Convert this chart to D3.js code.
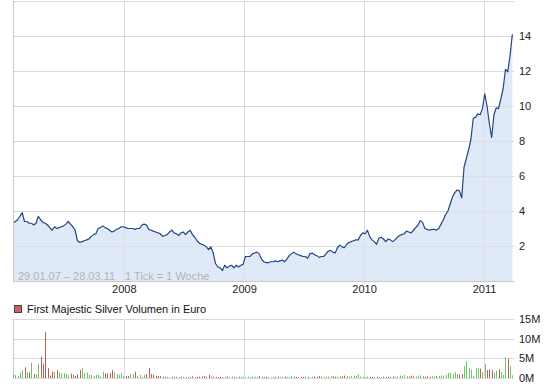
<!DOCTYPE html>
<html>
<head>
<meta charset="utf-8">
<script src="https://cdn.jsdelivr.net/npm/d3@7"></script>
<style>
  body { margin: 0; background: #fff; }
  svg { display: block; font-family: "Liberation Sans", Arial, sans-serif; }
</style>
</head>
<body>
<svg width="557" height="389"></svg>
<script>
// weekly closes in Euro, 29.01.07 .. 28.03.11
const startDate = '2007-01-29'
const prices = [
  3.3, 3.4, 3.5, 3.7, 3.9, 3.4, 3.4, 3.3, 3.3, 3.2,
  3.3, 3.7, 3.5, 3.35, 3.3, 3.2, 3.05, 2.9, 3.1, 3.0,
  3.05, 3.1, 3.15, 3.25, 3.4, 3.25, 3.1, 2.9, 2.3, 2.2,
  2.25, 2.3, 2.35, 2.4, 2.55, 2.65, 2.7, 3.0, 3.05, 3.15,
  3.05, 3.0, 2.9, 2.8, 2.85, 2.95, 3.0, 3.1, 3.1, 3.05,
  3.0, 3.0, 3.0, 2.95, 3.0, 3.0, 3.2, 3.25, 3.2, 2.95,
  2.9, 2.85, 2.8, 2.75, 2.7, 2.55, 2.6, 2.65, 2.8, 2.9,
  2.75, 2.7, 2.6, 2.75, 2.8, 2.65, 2.8, 2.9, 2.65, 2.5,
  2.3, 2.15, 2.1, 2.05, 1.95, 1.8, 1.95, 1.6, 1.0, 0.8,
  0.75, 0.6, 0.9, 0.75, 0.85, 0.9, 0.75, 0.9, 0.8, 0.9,
  0.95, 1.4, 1.4, 1.4, 1.55, 1.6, 1.65, 1.55, 1.25, 1.1,
  1.05, 1.05, 1.1, 1.1, 1.15, 1.1, 1.15, 1.2, 1.1, 1.25,
  1.45, 1.55, 1.65, 1.55, 1.5, 1.45, 1.4, 1.4, 1.3, 1.55,
  1.6, 1.5, 1.45, 1.35, 1.4, 1.4, 1.55, 1.7, 1.75, 1.65,
  1.6, 1.9, 2.05, 1.95, 1.9, 2.1, 2.2, 2.25, 2.3, 2.35,
  2.35, 2.6, 2.75, 2.7, 2.9, 2.55, 2.35, 2.25, 2.1, 2.45,
  2.5, 2.4, 2.25, 2.4, 2.35, 2.25, 2.35, 2.5, 2.6, 2.65,
  2.7, 2.85, 2.8, 2.75, 2.9, 3.05, 3.2, 3.45, 3.35, 3.0,
  2.95, 2.9, 2.95, 2.95, 2.9, 3.0, 3.25, 3.5, 3.8, 4.0,
  4.4, 4.8, 5.05, 5.2, 5.15, 4.75, 6.5, 7.0, 7.5, 8.1,
  9.3, 9.35, 9.55, 9.5, 9.85, 10.7, 10.0, 9.0, 8.2, 9.5,
  9.9, 9.85, 10.4, 11.0, 12.1, 11.95, 12.9, 14.1
]
// weekly volume, million Euro
const volumes = [
  0.9, 0.8, 0.5, 1.4, 2.0, 2.7, 1.4, 1.4, 3.9, 1.0,
  1.0, 3.6, 5.4, 3.6, 11.7, 2.5, 0.6, 1.6, 1.6, 2.0,
  1.4, 1.2, 1.2, 1.1, 0.8, 1.1, 0.8, 0.5, 1.0, 2.0,
  2.5, 1.2, 1.4, 0.8, 0.8, 0.5, 0.8, 0.8, 0.5, 1.6,
  1.2, 1.2, 1.2, 2.0, 1.4, 1.0, 0.8, 1.2, 0.5, 0.5,
  0.5, 1.0, 1.0, 1.6, 0.5, 0.8, 0.3, 0.8, 1.0, 2.5,
  1.0, 0.8, 0.5, 0.5, 0.5, 0.3, 0.4, 0.3, 0.2, 0.4,
  0.3, 0.3, 0.2, 0.4, 0.3, 0.2, 0.3, 0.3, 0.4, 0.2,
  0.3, 0.3, 0.4, 0.5, 0.3, 0.8, 0.4, 0.3, 0.3, 0.2,
  0.3, 0.2, 0.3, 0.4, 0.2, 0.3, 0.2, 0.3, 0.3, 0.4,
  0.3, 0.2, 0.3, 0.2, 0.4, 0.3, 0.3, 0.5, 0.3, 0.2,
  0.3, 0.3, 0.2, 0.3, 0.4, 0.3, 0.2, 0.3, 0.4, 0.3,
  0.3, 0.5, 0.4, 0.3, 0.2, 0.3, 0.3, 0.4, 0.3, 0.2,
  0.3, 0.4, 0.3, 0.5, 0.4, 0.3, 0.3, 0.4, 0.5, 0.4,
  0.3, 0.4, 0.5, 0.4, 0.6, 0.5, 0.4, 0.5, 0.6, 0.5,
  0.9, 0.4, 0.3, 0.2, 0.4, 0.3, 0.3, 0.2, 0.3, 0.3,
  0.2, 0.3, 0.3, 0.4, 0.3, 0.4, 0.3, 0.4, 0.6, 0.5,
  0.8, 0.5, 0.4, 0.6, 0.5, 0.4, 0.5, 0.7, 0.4, 0.3,
  0.4, 0.3, 0.5, 0.4, 0.5, 0.5, 0.6, 0.6, 0.8, 1.3,
  1.3, 1.1, 1.5, 1.0, 0.9, 1.0, 3.0, 4.3, 2.5, 2.1,
  0.6, 2.5, 2.5, 2.4, 1.5, 3.5, 2.0, 2.2, 2.0, 1.3,
  1.8, 2.2, 1.5, 0.8, 5.3, 4.9, 3.0, 0.7
]
const years = [2008, 2009, 2010, 2011]
const priceTicks = [2, 4, 6, 8, 10, 12, 14]
const volumeTicks = [0, 5, 10, 15]
const rangeLabel = '29.01.07 – 28.03.11'
const tickLabel = '1 Tick = 1 Woche'
const legendLabel = 'First Majestic Silver Volumen in Euro'

function draw() {
  const svg = d3.select('svg')
  const start = new Date(startDate + 'T00:00')
  const data = prices.map((p, i) => ({
    date: d3.timeDay.offset(start, 7 * i),
    price: p,
    volume: volumes[i],
    up: i == 0 || p >= prices[i - 1]
  }))

  const left = 13, right = 514
  const x = d3.scaleTime()
    .domain([start, new Date('2011-04-02T00:00')])
    .range([left, right])
  const y = d3.scaleLinear().domain([0, 16]).range([281, 1])
  const yv = d3.scaleLinear().domain([0, 15]).range([378, 319])
  const grid = '#d9d9d9'

  // price panel grid
  const g = svg.append('g')
  g.selectAll('.hgrid')
    .data(priceTicks.concat([16]))
    .enter().append('line')
    .attr('x1', left).attr('x2', right)
    .attr('y1', d => Math.round(y(d)) + 0.5).attr('y2', d => Math.round(y(d)) + 0.5)
    .attr('stroke', grid)
  g.selectAll('.vgrid')
    .data(years)
    .enter().append('line')
    .attr('x1', d => Math.round(x(new Date(d, 0, 1))) + 0.5)
    .attr('x2', d => Math.round(x(new Date(d, 0, 1))) + 0.5)
    .attr('y1', y(16)).attr('y2', y(0))
    .attr('stroke', grid)

  // area + line
  g.append('path')
    .datum(data)
    .attr('fill', '#e0e9f8')
    .attr('d', d3.area()
      .x(d => x(d.date))
      .y0(y(0))
      .y1(d => y(d.price)))
  // grid shows through the light fill
  g.selectAll('.vgrid2')
    .data(years)
    .enter().append('line')
    .attr('x1', d => Math.round(x(new Date(d, 0, 1))) + 0.5)
    .attr('x2', d => Math.round(x(new Date(d, 0, 1))) + 0.5)
    .attr('y1', y(16)).attr('y2', y(0))
    .attr('stroke', grid).attr('stroke-opacity', 0.6)
  g.selectAll('.hgrid2')
    .data(priceTicks)
    .enter().append('line')
    .attr('x1', left).attr('x2', right)
    .attr('y1', d => Math.round(y(d)) + 0.5).attr('y2', d => Math.round(y(d)) + 0.5)
    .attr('stroke', grid).attr('stroke-opacity', 0.6)
  g.append('path')
    .datum(data)
    .attr('fill', 'none')
    .attr('stroke', '#23477f')
    .attr('stroke-width', 1.2)
    .attr('stroke-linejoin', 'round')
    .attr('d', d3.line()
      .x(d => x(d.date))
      .y(d => y(d.price)))

  // frame: left and bottom
  g.append('line').attr('x1', left + 0.5).attr('x2', left + 0.5)
    .attr('y1', y(16)).attr('y2', y(0) + 1).attr('stroke', '#c8c8c8')
  g.append('line').attr('x1', left).attr('x2', right)
    .attr('y1', y(0) + 0.5).attr('y2', y(0) + 0.5).attr('stroke', '#c8c8c8')

  // price axis on the right
  const ya = svg.append('g')
    .attr('transform', `translate(${right},0)`)
    .call(d3.axisRight(y).tickValues(priceTicks).tickSize(0).tickPadding(5))
  ya.select('.domain').remove()
  ya.selectAll('text').attr('font-size', 11).attr('fill', '#222')
    .attr('font-family', '"Liberation Sans", Arial, sans-serif')

  // year labels
  const xa = svg.append('g')
    .attr('transform', `translate(0,${y(0)})`)
    .call(d3.axisBottom(x).tickValues(years.map(d => new Date(d, 0, 1)))
      .tickFormat(d3.timeFormat('%Y')).tickSize(0).tickPadding(4))
  xa.select('.domain').remove()
  xa.selectAll('text').attr('font-size', 11).attr('fill', '#222')
    .attr('font-family', '"Liberation Sans", Arial, sans-serif')

  // period note inside the plot
  svg.append('text').attr('x', 18).attr('y', 280)
    .attr('font-size', 11).attr('fill', '#b3b3b3').text(rangeLabel)
  svg.append('text').attr('x', 125).attr('y', 280)
    .attr('font-size', 11).attr('fill', '#b3b3b3').text(tickLabel)

  // legend
  svg.append('rect').attr('x', 14.5).attr('y', 305.5).attr('width', 7).attr('height', 7)
    .attr('fill', '#d06060').attr('stroke', '#444')
  svg.append('text').attr('x', 27).attr('y', 313)
    .attr('font-size', 11).attr('fill', '#111').text(legendLabel)

  // volume panel
  const v = svg.append('g')
  v.selectAll('.vh')
    .data(volumeTicks)
    .enter().append('line')
    .attr('x1', left).attr('x2', right)
    .attr('y1', d => Math.round(yv(d)) + 0.5).attr('y2', d => Math.round(yv(d)) + 0.5)
    .attr('stroke', grid)
  v.selectAll('.vv')
    .data(years)
    .enter().append('line')
    .attr('x1', d => Math.round(x(new Date(d, 0, 1))) + 0.5)
    .attr('x2', d => Math.round(x(new Date(d, 0, 1))) + 0.5)
    .attr('y1', yv(15)).attr('y2', yv(0))
    .attr('stroke', grid)
  v.append('line').attr('x1', left + 0.5).attr('x2', left + 0.5)
    .attr('y1', yv(15)).attr('y2', yv(0)).attr('stroke', '#c8c8c8')

  v.selectAll('.bar')
    .data(data)
    .enter().append('rect')
    .attr('x', d => Math.round(x(d.date)))
    .attr('width', 1)
    .attr('y', d => yv(d.volume))
    .attr('height', d => yv(0) - yv(d.volume))
    .attr('fill', d => d.up ? '#6cc866' : '#c25a5a')

  const va = svg.append('g')
    .attr('transform', `translate(${right},0)`)
    .call(d3.axisRight(yv).tickValues(volumeTicks).tickFormat(d => d + 'M')
      .tickSize(0).tickPadding(5))
  va.select('.domain').remove()
  va.selectAll('text').attr('font-size', 11).attr('fill', '#222')
    .attr('font-family', '"Liberation Sans", Arial, sans-serif')
}

draw()
</script>
</body>
</html>
